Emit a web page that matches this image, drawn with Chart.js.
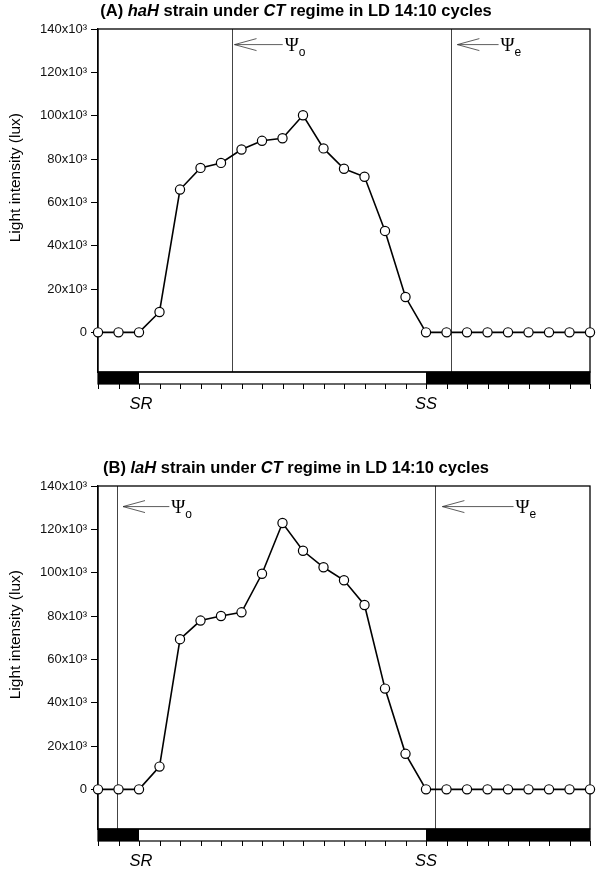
<!DOCTYPE html>
<html>
<head>
<meta charset="utf-8">
<script src="https://cdn.jsdelivr.net/npm/chart.js@4.4.0/dist/chart.umd.min.js"></script>
<style>
  body { margin: 0; background: #fff; }
  canvas { position: absolute; left: 0; }
  #chartA { top: 0; }
  #chartB { top: 457px; }
</style>
</head>
<body>
<canvas id="chartA" width="600" height="414"></canvas>
<canvas id="chartB" width="600" height="414"></canvas>
<script>
// hours of the LD cycle, one sample per hour
const hours = [0, 1, 2, 3, 4, 5, 6, 7, 8, 9, 10, 11, 12, 13, 14, 15, 16, 17, 18, 19, 20, 21, 22, 23, 24];

// light intensity (lux)
const lightA = [0, 0, 0, 9400, 65900, 75900, 78200, 84400, 88400, 89600, 100200, 84900, 75500,
                71800, 46800, 16300, 0, 0, 0, 0, 0, 0, 0, 0, 0];
const lightB = [0, 0, 0, 10500, 69300, 77900, 80000, 81700, 99500, 122900, 110100, 102500, 96500,
                85100, 46500, 16400, 0, 0, 0, 0, 0, 0, 0, 0, 0];

const yTicks = [0, 20000, 40000, 60000, 80000, 100000, 120000, 140000];

// sunrise / sunset hours (LD 14:10)
const sunrise = 2;
const sunset = 16;

// activity onset / end (hours)
const psiA = [6.53, 17.24];
const psiB = [0.95, 16.42];

const FONT = '"Liberation Sans", Arial, sans-serif';

function line(ctx, x1, y1, x2, y2) {
    ctx.beginPath();
    ctx.moveTo(x1, y1);
    ctx.lineTo(x2, y2);
    ctx.stroke();
}

const panelDecor = {
    id: 'panelDecor',

    beforeDatasetsDraw(chart, args, opts) {
        const { ctx, chartArea: a, scales: { x } } = chart;
        ctx.save();
        // psi lines
        ctx.strokeStyle = '#444';
        ctx.lineWidth = 1;
        opts.psi.forEach(h => {
            const px = Math.round(x.getPixelForValue(h)) + 0.5;
            line(ctx, px, a.top, px, a.bottom);
        });
        // frame
        ctx.strokeStyle = '#000';
        ctx.lineWidth = 1.3;
        ctx.strokeRect(a.left, a.top, a.right - a.left, a.bottom - a.top);
        ctx.restore();
    },

    afterDraw(chart, args, opts) {
        const { ctx, chartArea: a, scales: { x, y } } = chart;
        ctx.save();

        // arrows + labels
        opts.arrows.forEach(arr => {
            const tip = x.getPixelForValue(arr.tip);
            const tail = x.getPixelForValue(arr.tail);
            const py = y.getPixelForValue(arr.level);
            ctx.strokeStyle = '#333';
            ctx.lineWidth = 0.8;
            line(ctx, tip, py, tail, py);
            line(ctx, tip, py, tip + 22, py - 6);
            line(ctx, tip, py, tip + 22, py + 6);
            ctx.fillStyle = '#000';
            ctx.textBaseline = 'middle';
            ctx.textAlign = 'left';
            ctx.font = '19px "Liberation Serif", serif';
            ctx.fillText('\u03A8', tail + 2, py + 1);
            const w = ctx.measureText('\u03A8').width;
            ctx.font = '12px ' + FONT;
            ctx.fillText(arr.sub, tail + 2 + w, py + 8);
        });

        // LD bar
        const barTop = a.bottom;
        const barH = 12;
        const xl = x.getPixelForValue(hours[0]);
        const xr = x.getPixelForValue(hours[hours.length - 1]);
        const xOn = x.getPixelForValue(sunrise);
        const xOff = x.getPixelForValue(sunset);
        ctx.fillStyle = '#000';
        ctx.fillRect(xl, barTop, xOn - xl, barH);
        ctx.fillRect(xOff, barTop, xr - xOff, barH);
        ctx.strokeStyle = '#000';
        ctx.lineWidth = 1.2;
        ctx.strokeRect(xl, barTop, xr - xl, barH);

        // hour ticks under the bar
        ctx.lineWidth = 1;
        hours.forEach(h => {
            const px = Math.round(x.getPixelForValue(h)) + 0.5;
            line(ctx, px, barTop + barH, px, barTop + barH + 5);
        });

        ctx.font = 'italic 16.5px ' + FONT;
        ctx.textAlign = 'center';
        ctx.textBaseline = 'middle';
        ctx.fillText('SR', xOn + 2, barTop + barH + 20);
        ctx.fillText('SS', xOff, barTop + barH + 20);

        // y axis title
        const yMid = (y.getPixelForValue(0) + y.getPixelForValue(140000)) / 2 - 3;
        ctx.save();
        ctx.translate(16, yMid);
        ctx.rotate(-Math.PI / 2);
        ctx.font = '15.5px ' + FONT;
        ctx.fillText('Light intensity (lux)', 0, 0);
        ctx.restore();

        // title with italic parts
        const runs = opts.title;
        let total = 0;
        runs.forEach(r => {
            ctx.font = (r[1] ? 'italic ' : '') + 'bold 16.5px ' + FONT;
            total += ctx.measureText(r[0]).width;
        });
        let tx = 296 - total / 2;
        ctx.textAlign = 'left';
        runs.forEach(r => {
            ctx.font = (r[1] ? 'italic ' : '') + 'bold 16.5px ' + FONT;
            ctx.fillText(r[0], tx, a.top - 18);
            tx += ctx.measureText(r[0]).width;
        });

        ctx.restore();
    }
};

function makePanel(id, values, psi, arrows, title) {
    return new Chart(document.getElementById(id), {
        type: 'line',
        data: {
            datasets: [{
                data: hours.map((h, i) => ({ x: h, y: values[i] })),
                borderColor: '#000',
                borderWidth: 1.6,
                pointRadius: 4.6,
                pointBackgroundColor: '#fff',
                pointBorderColor: '#000',
                pointBorderWidth: 1.2,
                tension: 0,
                clip: false
            }]
        },
        options: {
            responsive: false,
            animation: false,
            events: [],
            layout: { padding: { top: 29, right: 10, bottom: 42, left: 0 } },
            plugins: {
                legend: { display: false },
                tooltip: { enabled: false },
                panelDecor: { psi: psi, arrows: arrows, title: title }
            },
            scales: {
                x: {
                    type: 'linear',
                    min: 0,
                    max: 24,
                    display: false
                },
                y: {
                    min: -18300,
                    max: 140000,
                    afterBuildTicks: scale => { scale.ticks = yTicks.map(v => ({ value: v })); },
                    afterFit: scale => { scale.width = 98; },
                    grid: { drawOnChartArea: false, tickLength: 7, color: '#000', lineWidth: 1 },
                    border: { color: '#000', width: 1.3 },
                    ticks: {
                        padding: 4,
                        color: '#111',
                        font: { family: FONT, size: 13 },
                        callback: v => v === 0 ? '0' : (v / 1000) + 'x10\u00B3'
                    }
                }
            }
        },
        plugins: [panelDecor]
    });
}

makePanel('chartA', lightA, psiA,
    [{ tip: 6.66, tail: 9.01, level: 132800, sub: 'o' },
     { tip: 17.53, tail: 19.54, level: 132800, sub: 'e' }],
    [['(A) ', false], ['haH', true], [' strain under ', false], ['CT', true], [' regime in LD 14:10 cycles', false]]);

makePanel('chartB', lightB, psiB,
    [{ tip: 1.22, tail: 3.48, level: 130500, sub: 'o' },
     { tip: 16.8, tail: 20.27, level: 130500, sub: 'e' }],
    [['(B) ', false], ['laH', true], [' strain under ', false], ['CT', true], [' regime in LD 14:10 cycles', false]]);
</script>
</body>
</html>
